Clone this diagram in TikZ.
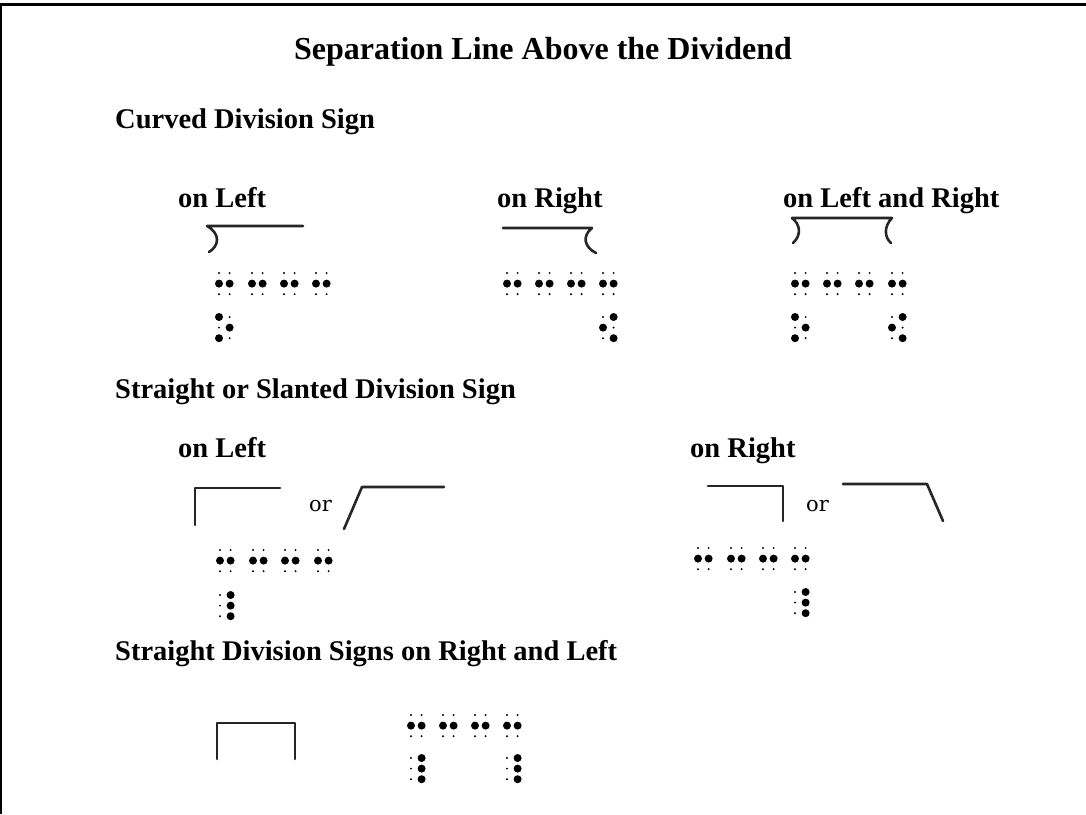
\documentclass[tikz,border=0pt]{standalone}
\usepackage{fontspec}
\setmainfont{Liberation Serif}
\newfontfamily\orfont{DejaVu Serif}

% 盲文单元: x, y (第一点), 六个点 (1=凸点)
\newcommand{\brlcell}[3]{%
    \foreach \f [count=\i from 0] in {#3} {
        \pgfmathtruncatemacro{\col}{int(\i/3)}
        \pgfmathtruncatemacro{\row}{mod(\i,3)}
        \ifnum\f=1
            \fill (#1+\col*10.6, #2+\row*10.6) circle (4pt);
        \else
            \fill (#1+\col*10.6, #2+\row*10.6) circle (1.1pt);
        \fi
    }%
}

\begin{document}
\begin{tikzpicture}[
        x=1pt, y=-1pt,
        every node/.style={
            inner sep=0pt
        },
        titletext/.style={
            font=\fontsize{32}{36}\selectfont\bfseries,
            anchor=base
        },
        headtext/.style={
            font=\fontsize{28.5}{32}\selectfont\bfseries,
            anchor=base west
        },
        ortext/.style={
            font=\fontsize{21}{26}\selectfont\orfont,
            anchor=base west
        },
        signline/.style={
            line width=2.6pt,
            black!85,
            line cap=round,
            line join=round
        }
    ]
    \useasboundingbox (0,0) rectangle (1086,814);
    % 边框
    \draw[line width=2.5pt] (1,814) -- (1,4.5) -- (1086,4.5);

    % 标题
    \node[titletext] (title) at (543,59) {Separation Line Above the Dividend};

    % 弯曲除号
    \node[headtext] (curved) at (115,128) {Curved Division Sign};
    \node[headtext] (cleft) at (178,207) {on Left};
    \node[headtext] (cright) at (497,207) {on Right};
    \node[headtext] (cboth) at (783,207) {on Left and Right};

    \draw[signline] (303,226) -- (207,226) .. controls (221,234) and (219,246) .. (209,252);
    \draw[signline] (503,228) -- (592,228) .. controls (582,236) and (584,247) .. (596,253);
    \draw[signline] (793,243) .. controls (802,235) and (800,224) .. (792,218)
        -- (892,218) .. controls (884,226) and (884,237) .. (891,243);

    \brlcell{219}{273}{0,1,0,0,1,0}
    \brlcell{252}{273}{0,1,0,0,1,0}
    \brlcell{284}{273}{0,1,0,0,1,0}
    \brlcell{316}{273}{0,1,0,0,1,0}
    \brlcell{219}{317}{1,0,1,0,1,0}

    \brlcell{507}{273}{0,1,0,0,1,0}
    \brlcell{539}{273}{0,1,0,0,1,0}
    \brlcell{571}{273}{0,1,0,0,1,0}
    \brlcell{603}{273}{0,1,0,0,1,0}
    \brlcell{603}{317}{0,1,0,1,0,1}

    \brlcell{795}{273}{0,1,0,0,1,0}
    \brlcell{827}{273}{0,1,0,0,1,0}
    \brlcell{859}{273}{0,1,0,0,1,0}
    \brlcell{892}{273}{0,1,0,0,1,0}
    \brlcell{795}{317}{1,0,1,0,1,0}
    \brlcell{892}{317}{0,1,0,1,0,1}

    % 直线或斜线除号
    \node[headtext] (straight) at (115,398) {Straight or Slanted Division Sign};
    \node[headtext] (sleft) at (178,457) {on Left};
    \node[headtext] (sright) at (690,457) {on Right};

    \draw[signline] (195,525) -- (195,488) -- (280,488);
    \node[ortext] (orleft) at (309,511) {or};
    \draw[signline] (344,529) -- (362,487) -- (444,487);

    \draw[signline] (708,486) -- (783,486) -- (783,521);
    \node[ortext] (orright) at (806,511) {or};
    \draw[signline] (843,484) -- (927,484) -- (943,521);

    \brlcell{220}{550}{0,1,0,0,1,0}
    \brlcell{253}{550}{0,1,0,0,1,0}
    \brlcell{285}{550}{0,1,0,0,1,0}
    \brlcell{318}{550}{0,1,0,0,1,0}
    \brlcell{220}{595}{0,0,0,1,1,1}

    \brlcell{698}{548}{0,1,0,0,1,0}
    \brlcell{731}{548}{0,1,0,0,1,0}
    \brlcell{763}{548}{0,1,0,0,1,0}
    \brlcell{795}{548}{0,1,0,0,1,0}
    \brlcell{795}{592}{0,0,0,1,1,1}

    % 左右两侧直线除号
    \node[headtext] (sboth) at (115,660) {Straight Division Signs on Right and Left};

    \draw[signline] (217,759) -- (217,723) -- (295,723) -- (295,759);

    \brlcell{411}{715}{0,1,0,0,1,0}
    \brlcell{443}{715}{0,1,0,0,1,0}
    \brlcell{475}{715}{0,1,0,0,1,0}
    \brlcell{507}{715}{0,1,0,0,1,0}
    \brlcell{411}{758}{0,0,0,1,1,1}
    \brlcell{507}{758}{0,0,0,1,1,1}
\end{tikzpicture}
\end{document}
